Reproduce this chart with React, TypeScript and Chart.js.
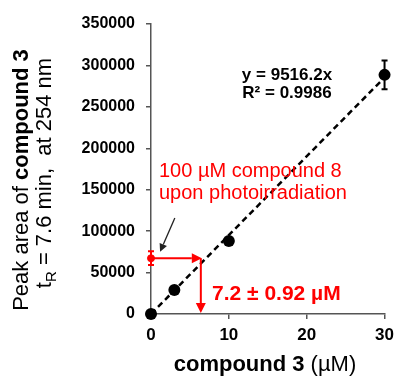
import React, { useEffect, useRef } from 'react';
import { Chart, registerables } from 'chart.js';

Chart.register(...registerables);

// ---- data ----
const concentrations = [0, 3, 10, 30];
const peakAreas = [0, 29000, 88000, 288600];
const peakErrors = [0, 0, 0, 17300];
const trendX = [0, 30];
const trendY = [0, 285486];
const sampleX = [0];
const sampleY = [67300];
const sampleErr = [8300];
const readoutX = 6.4;
const calloutFrom = { x: 3.06, y: 116000 };
const calloutTo = { x: 1.17, y: 75000 };
const xTickValues = [0, 10, 20, 30];
const yTickValues = [0, 50000, 100000, 150000, 200000, 250000, 300000, 350000];

const FAM = "'Liberation Sans', Arial, sans-serif";
const RED = '#ff0000';

type Run = { text: string; font: string; dy?: number };

function runsWidth(ctx: CanvasRenderingContext2D, runs: Run[]) {
  let w = 0;
  for (const r of runs) {
    ctx.font = r.font;
    w += ctx.measureText(r.text).width;
  }
  return w;
}

function drawRuns(ctx: CanvasRenderingContext2D, runs: Run[], x: number, y: number, align: 'left' | 'center', color: string) {
  const w = runsWidth(ctx, runs);
  let cx = align === 'center' ? x - w / 2 : x;
  ctx.fillStyle = color;
  ctx.textAlign = 'left';
  ctx.textBaseline = 'alphabetic';
  for (const r of runs) {
    ctx.font = r.font;
    ctx.fillText(r.text, cx, y + (r.dy || 0));
    cx += ctx.measureText(r.text).width;
  }
}

function arrow(ctx: CanvasRenderingContext2D, x1: number, y1: number, x2: number, y2: number, color: string, lw: number, hl: number, hw: number) {
  const ang = Math.atan2(y2 - y1, x2 - x1);
  const bx = x2 - Math.cos(ang) * hl;
  const by = y2 - Math.sin(ang) * hl;
  ctx.save();
  ctx.strokeStyle = color;
  ctx.fillStyle = color;
  ctx.lineWidth = lw;
  ctx.beginPath();
  ctx.moveTo(x1, y1);
  ctx.lineTo(bx, by);
  ctx.stroke();
  ctx.beginPath();
  ctx.moveTo(x2, y2);
  ctx.lineTo(bx + Math.sin(ang) * hw, by - Math.cos(ang) * hw);
  ctx.lineTo(bx - Math.sin(ang) * hw, by + Math.cos(ang) * hw);
  ctx.closePath();
  ctx.fill();
  ctx.restore();
}

function errorBar(ctx: CanvasRenderingContext2D, px: number, yTop: number, yBot: number, color: string, cap: number) {
  ctx.save();
  ctx.strokeStyle = color;
  ctx.lineWidth = 2;
  ctx.beginPath();
  ctx.moveTo(px, yTop);
  ctx.lineTo(px, yBot);
  ctx.moveTo(px - cap, yTop);
  ctx.lineTo(px + cap, yTop);
  ctx.moveTo(px - cap, yBot);
  ctx.lineTo(px + cap, yBot);
  ctx.stroke();
  ctx.restore();
}

const annotations = {
  id: 'annotations',
  beforeDatasetsDraw(chart: any) {
    const { ctx, scales } = chart;
    const xs = scales.x, ys = scales.y;
    concentrations.forEach((c, i) => {
      if (peakErrors[i] > 0) {
        errorBar(ctx, xs.getPixelForValue(c), ys.getPixelForValue(peakAreas[i] + peakErrors[i]), ys.getPixelForValue(peakAreas[i] - peakErrors[i]), '#000', 3);
      }
    });
  },
  afterDatasetsDraw(chart: any) {
    const { ctx, scales } = chart;
    const xs = scales.x, ys = scales.y;
    sampleX.forEach((sx, i) => {
      errorBar(ctx, xs.getPixelForValue(sx), ys.getPixelForValue(sampleY[i] + sampleErr[i]), ys.getPixelForValue(sampleY[i] - sampleErr[i]), RED, 3);
    });
    const py = ys.getPixelForValue(sampleY[0]);
    const p0 = xs.getPixelForValue(sampleX[0]);
    const pr = xs.getPixelForValue(readoutX);
    arrow(ctx, p0 + 3, py, pr + 1, py, RED, 2, 10, 5);
    arrow(ctx, pr, py, pr, ys.getPixelForValue(0) - 1, RED, 2, 10, 5);
    arrow(ctx, xs.getPixelForValue(calloutFrom.x), ys.getPixelForValue(calloutFrom.y), xs.getPixelForValue(calloutTo.x), ys.getPixelForValue(calloutTo.y), '#222', 1.3, 8, 4);
  },
  afterDraw(chart: any) {
    const { ctx } = chart;
    ctx.save();
    drawRuns(ctx, [{ text: 'y = 9516.2x', font: `bold 17px ${FAM}` }], 287, 80, 'center', '#000');
    drawRuns(ctx, [{ text: 'R² = 0.9986', font: `bold 17px ${FAM}` }], 287, 98, 'center', '#000');
    drawRuns(ctx, [{ text: '100 µM compound 8', font: `20px ${FAM}` }], 159, 177, 'left', RED);
    drawRuns(ctx, [{ text: 'upon photoirradiation', font: `20px ${FAM}` }], 159, 199, 'left', RED);
    drawRuns(ctx, [{ text: '7.2 ± 0.92 µM', font: `bold 21px ${FAM}` }], 212, 300, 'left', RED);
    drawRuns(ctx, [
      { text: 'compound 3', font: `bold 22px ${FAM}` },
      { text: ' (µM)', font: `22px ${FAM}` },
    ], 265, 371, 'center', '#000');
    ctx.save();
    ctx.translate(28, 180);
    ctx.rotate(-Math.PI / 2);
    drawRuns(ctx, [
      { text: 'Peak area of ', font: `22px ${FAM}` },
      { text: 'compound 3', font: `bold 22px ${FAM}` },
    ], 0, 0, 'center', '#000');
    ctx.restore();
    ctx.save();
    ctx.translate(51, 173);
    ctx.rotate(-Math.PI / 2);
    drawRuns(ctx, [
      { text: 't', font: `22px ${FAM}` },
      { text: 'R', font: `15px ${FAM}`, dy: 5 },
      { text: ' = 7.6 min,  at 254 nm', font: `22px ${FAM}` },
    ], 0, 0, 'center', '#000');
    ctx.restore();
    ctx.restore();
  },
};

export default function App() {
  const ref = useRef<HTMLCanvasElement>(null);
  useEffect(() => {
    if (!ref.current) return;
    const chart = new Chart(ref.current, {
      type: 'scatter',
      data: {
        datasets: [
          {
            type: 'line',
            label: 'trend',
            data: trendX.map((x, i) => ({ x, y: trendY[i] })),
            showLine: true,
            fill: false,
            borderColor: '#000000',
            backgroundColor: '#000000',
            borderWidth: 2.5,
            borderDash: [6, 4],
            pointRadius: 0,
            tension: 0,
            clip: false,
          } as any,
          {
            label: 'standards',
            data: concentrations.map((x, i) => ({ x, y: peakAreas[i] })),
            pointRadius: 6,
            pointBackgroundColor: '#000',
            pointBorderColor: '#000',
            borderWidth: 0,
            clip: false,
          } as any,
          {
            label: 'sample',
            data: sampleX.map((x, i) => ({ x, y: sampleY[i] })),
            pointRadius: 3.5,
            pointBackgroundColor: RED,
            pointBorderColor: RED,
            clip: false,
          } as any,
        ],
      },
      options: {
        animation: false,
        responsive: false,
        devicePixelRatio: 1,
        layout: { padding: { top: 24, right: 12, left: 0, bottom: 0 } },
        plugins: { legend: { display: false }, tooltip: { enabled: false } },
        scales: {
          x: {
            type: 'linear',
            min: 0,
            max: 30,
            afterBuildTicks: (s: any) => { s.ticks = xTickValues.map((v) => ({ value: v })); },
            afterFit: (s: any) => { s.height = 62; },
            ticks: { color: '#000', font: { family: FAM, size: 17, weight: 'bold' }, padding: 6, callback: (v: any) => String(v) },
            grid: { drawOnChartArea: false, drawTicks: true, tickLength: 5, color: '#555', lineWidth: 1.5 },
            border: { display: true, color: '#555', width: 1.5 },
          },
          y: {
            type: 'linear',
            min: 0,
            max: 350000,
            afterBuildTicks: (s: any) => { s.ticks = yTickValues.map((v) => ({ value: v })); },
            afterFit: (s: any) => { s.width = 151; },
            ticks: { color: '#000', font: { family: FAM, size: 16, weight: 'bold' }, padding: 11, callback: (v: any) => String(v) },
            grid: { drawOnChartArea: false, drawTicks: true, tickLength: 5, color: '#555', lineWidth: 1.5 },
            border: { display: true, color: '#555', width: 1.5 },
          },
        },
      } as any,
      plugins: [annotations],
    });
    return () => chart.destroy();
  }, []);
  return (
    <div style={{ position: 'fixed', left: 0, top: 0, width: 400, height: 376, background: '#fff' }}>
      <canvas ref={ref} width={400} height={376} style={{ display: 'block' }} />
    </div>
  );
}
